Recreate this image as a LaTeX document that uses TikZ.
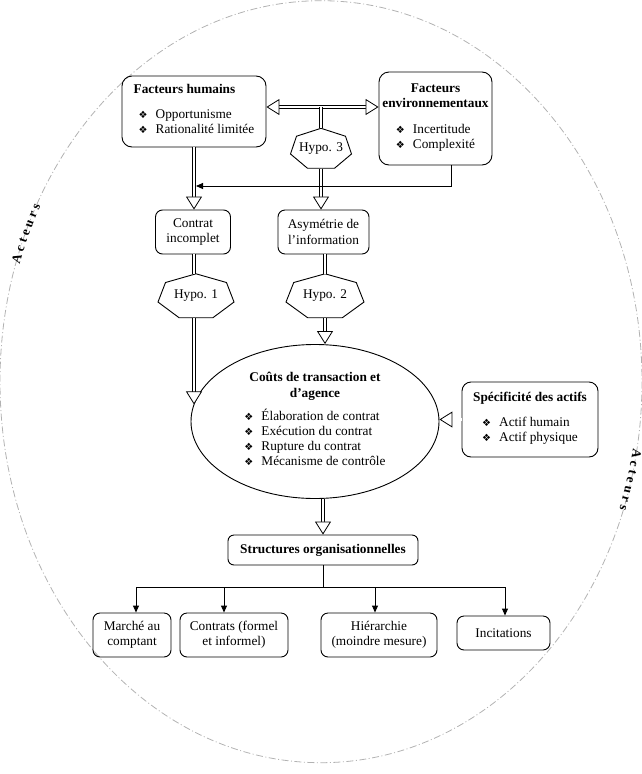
\documentclass[tikz,border=0pt]{standalone}
\usepackage{fontspec}
\setmainfont{Liberation Serif}
\newfontfamily\dejavu{DejaVu Sans}
\usetikzlibrary{arrows.meta,positioning,calc,shapes.geometric,decorations.text}
\newcommand{\puce}{{\dejavu\fontsize{10}{10}\selectfont ❖}\hspace{8pt}}
\newcommand{\liste}[1]{\begin{tabular}[t]{@{}l@{}}#1\end{tabular}}
\tikzset{
  blk/.style={draw, line width=0.9pt, rounded corners=7pt, align=center, inner sep=2pt},
  hyp/.style={inner sep=0pt},
  hep/.style={line width=0.9pt},
  dbl/.style={line width=0.8pt, double=white, double distance=2.2pt},
  otip/.style={draw=white, line width=0.3pt},
  sig/.style={line width=0.9pt, -{Triangle[length=7pt,width=6pt]}},
  >={Triangle[fill=white, color=black, line width=0.8pt, length=13pt, width=16pt]},
  bord/.style={draw=black!30, line width=0.8pt, dash pattern=on 7pt off 2.5pt on 1pt off 2.5pt},
  act/.style={decorate, decoration={text along path, text align=center, raise=-4pt,
    text={|\fontsize{13}{13}\selectfont\bfseries|A c t e u r s}}},
}
\begin{document}
\begin{tikzpicture}[x=1pt, y=-1pt, font=\fontsize{13.3}{15.3}\selectfont]
  \useasboundingbox (0,0) rectangle (642,774);
  % cadre des acteurs
  \draw[bord] (321,381.7) ellipse [x radius=321, y radius=381];
  \path[act] (321,381.7) ++(193:321 and 381) arc[start angle=193, end angle=213, x radius=321, y radius=381];
  \path[act] (321,381.7) ++(5:321 and 381) arc[start angle=5, end angle=25, x radius=321, y radius=381];

  % facteurs
  \node[blk, rounded corners=10pt, minimum width=144pt, minimum height=71pt, align=left] (fhum) at (194,111.5)
    {\textbf{Facteurs humains}\\[9.5pt]\hspace*{5pt}\liste{\puce Opportunisme\\\puce Rationalité limitée}};
  \node[blk, rounded corners=10pt, minimum width=113pt, minimum height=93pt] (fenv) at (435.5,118.5)
    {\textbf{Facteurs}\\\textbf{environnementaux}\\[10.5pt]\liste{\puce Incertitude\\\puce Complexité}};
  \node[hyp, minimum width=61pt, minimum height=40pt] (hyp3) at (321,148.5) {Hypo. 3};
  \node[blk, minimum width=75pt, minimum height=44pt] (contrat) at (193,232) {Contrat\\incomplet};
  \node[blk, minimum width=91pt, minimum height=44pt] (asym) at (323.5,232) {Asymétrie de\\l’information};
  \node[hyp, minimum width=76pt, minimum height=44pt] (hyp1) at (196,296) {Hypo. 1};
  \node[hyp, minimum width=78pt, minimum height=44pt] (hyp2) at (325,296) {Hypo. 2};

  % coûts et actifs
  \node[draw, ellipse, line width=0.9pt, minimum width=248pt, minimum height=154pt, inner sep=0pt, align=center] (couts) at (315,421.5)
    {\textbf{Coûts de transaction et}\\\textbf{d’agence}\\[7.5pt]\liste{\puce Élaboration de contrat\\\puce Exécution du contrat\\\puce Rupture du contrat\\\puce Mécanisme de contrôle}};
  \node[blk, rounded corners=9pt, minimum width=136pt, minimum height=75pt] (specif) at (530,419.5)
    {\textbf{Spécificité des actifs}\\[9.5pt]\liste{\puce Actif humain\\\puce Actif physique}};

  % structures
  \node[blk, rounded corners=6pt, minimum width=190pt, minimum height=30pt] (struct) at (323,550) {\textbf{Structures organisationnelles}};
  \node[blk, minimum width=78pt, minimum height=44pt] (marche) at (132,635) {Marché au\\comptant};
  \node[blk, minimum width=108pt, minimum height=44pt] (contrats) at (234,635) {Contrats (formel\\et informel)};
  \node[blk, minimum width=116pt, minimum height=44pt] (hier) at (379,635) {Hiérarchie\\(moindre mesure)};
  \node[blk, minimum width=93pt, minimum height=34pt] (incit) at (503.5,633) {Incitations};

  % heptagones des hypothèses
  \draw[hep, shift={($(hyp3.north)+(0,21)$)}] (270:31.3 and 21)
    foreach \k in {1,...,6} {-- (270+\k*360/7:31.3 and 21)} -- cycle;
  \draw[hep, shift={($(hyp1.north)+(0,23.1)$)}] (270:39 and 23.1)
    foreach \k in {1,...,6} {-- (270+\k*360/7:39 and 23.1)} -- cycle;
  \draw[hep, shift={($(hyp2.north)+(0,23.1)$)}] (270:40 and 23.1)
    foreach \k in {1,...,6} {-- (270+\k*360/7:40 and 23.1)} -- cycle;

  % liens doubles
  \coordinate (lh) at ([yshift=4.5pt]fhum.east);
  \coordinate (le) at (lh -| fenv.west);
  \draw[dbl, shorten <=4pt, shorten >=4pt] (lh) -- (le);
  \draw[otip, <->] (lh) -- (le);
  \draw[dbl] (lh -| hyp3.north) -- (hyp3.north);
  \draw[dbl, shorten >=4pt] (fhum.south) -- (fhum.south |- contrat.north);
  \draw[otip, ->] (fhum.south) -- (fhum.south |- contrat.north);
  \draw[dbl, shorten >=4pt] (hyp3.south) -- (hyp3.south |- asym.north);
  \draw[otip, ->] (hyp3.south) -- (hyp3.south |- asym.north);
  \draw[dbl] (fhum.south |- contrat.south) -- (fhum.south |- hyp1.north);
  \draw[dbl] (asym.south -| hyp2.north) -- (hyp2.north);
  \draw[dbl, shorten >=4pt] (fhum.south |- hyp1.south) -- (fhum.south |- couts.172);
  \draw[otip, ->] (fhum.south |- hyp1.south) -- (fhum.south |- couts.172);
  \draw[dbl, shorten >=4pt] (hyp2.south) -- (hyp2.south |- couts.north);
  \draw[otip, ->] (hyp2.south) -- (hyp2.south |- couts.north);
  \draw[dbl, shorten >=4pt] (specif.west) -- (specif.west -| couts.east);
  \draw[otip, ->] (specif.west) -- (specif.west -| couts.east);
  \draw[dbl, shorten >=4pt] (couts.south -| struct.north) -- (struct.north);
  \draw[otip, ->] (couts.south -| struct.north) -- (struct.north);

  % environnement vers contrat
  \coordinate (mrg) at ($(fhum.south |- 0,186)+(2,0)$);
  \draw[sig] ([xshift=15.5pt]fenv.south) |- (mrg);

  % branches du bas
  \coordinate (bus) at ($(struct.south)+(0,22)$);
  \coordinate (d1) at ($(marche.north)+(4,0)$);
  \coordinate (d2) at ($(contrats.north)+(-10,0)$);
  \coordinate (d3) at ($(hier.north)+(-4,0)$);
  \coordinate (d4) at ($(incit.north)+(1.5,0)$);
  \draw[line width=0.9pt] (struct.south) -- (bus);
  \draw[line width=0.9pt] (d1 |- bus) -- (d4 |- bus);
  \draw[sig] (d1 |- bus) -- (d1);
  \draw[sig] (d2 |- bus) -- (d2);
  \draw[sig] (d3 |- bus) -- (d3);
  \draw[sig] (d4 |- bus) -- (d4);
\end{tikzpicture}
\end{document}
